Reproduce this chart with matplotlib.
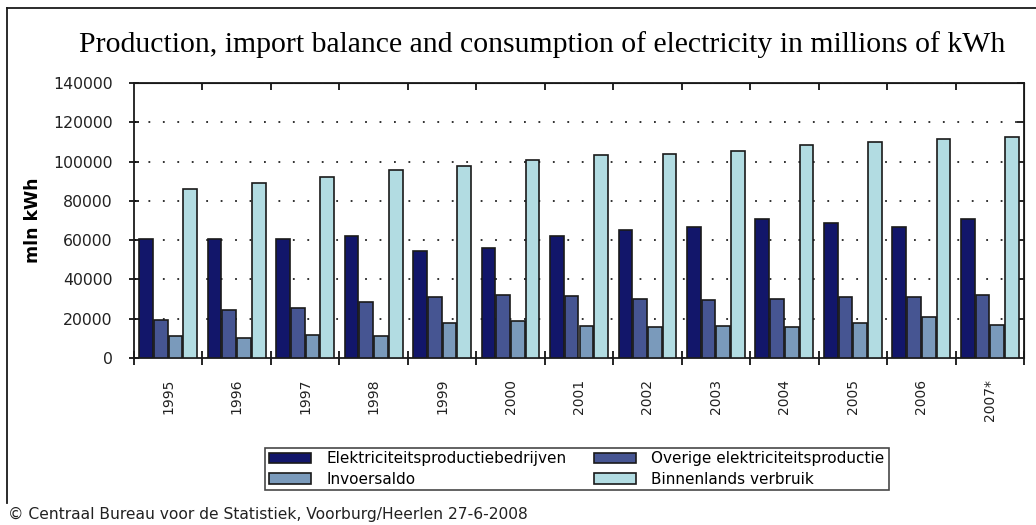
import matplotlib
matplotlib.use("Agg")
import matplotlib.pyplot as plt
import numpy as np
from matplotlib.lines import Line2D

# data (mln kWh)
years = ["1995", "1996", "1997", "1998", "1999", "2000", "2001",
         "2002", "2003", "2004", "2005", "2006", "2007*"]
productiebedrijven = [60400, 60400, 60400, 62100, 54500, 55800, 62100,
                      65200, 66700, 70600, 68900, 66700, 70600]
overige = [19600, 24200, 25500, 28600, 31000, 32300, 31500,
           30100, 29400, 30100, 31000, 31000, 32300]
invoersaldo = [11100, 10200, 11900, 11100, 17900, 18700, 16500,
               15700, 16500, 15700, 17900, 20900, 17000]
verbruik = [86000, 88900, 91900, 95800, 97900, 100900, 103300,
            104000, 105500, 108600, 110100, 111500, 112300]

labels = ["Elektriciteitsproductiebedrijven", "Overige elektriciteitsproductie",
          "Invoersaldo", "Binnenlands verbruik"]
colors = ["#12166a", "#465592", "#7a9abb", "#b2dce2"]

plt.rcParams['font.family'] = ['DejaVu Sans']

fig = plt.figure(figsize=(10.36, 5.25), dpi=100)
ax = fig.add_axes([134/1036, 1-358/525, 890/1036, 275/525])

x = np.arange(len(years))
w = 0.2
step = 0.215
series = [productiebedrijven, overige, invoersaldo, verbruik]
bars = []
for i, vals in enumerate(series):
    b = ax.bar(x + (i - 1.5)*step, vals, w, color=colors[i],
               edgecolor="#1a1a1a", linewidth=1.2, label=labels[i], zorder=3)
    bars.append(b)

ax.set_xlim(-0.5, len(years) - 0.5)
ax.set_ylim(0, 140000)
ax.set_yticks(np.arange(0, 140001, 20000))
ax.set_yticklabels([str(v) for v in range(0, 140001, 20000)], fontsize=11.3, color="#222")
ax.yaxis.grid(True, linestyle=(0, (1, 7)), color="#222", linewidth=1.3)
ax.set_axisbelow(True)

bounds = np.arange(-0.5, len(years), 1.0)
ax.set_xticks(bounds)
ax.set_xticklabels([])
ax.set_xticks(x, minor=True)
ax.set_xticklabels(years, minor=True, rotation=90, fontsize=10, color="#222")
ax.tick_params(axis='x', which='minor', length=0, pad=15)
ax.tick_params(axis='x', which='major', direction='inout', length=10, width=1.2)
ax.tick_params(axis='y', direction='inout', length=6.5, width=1.2, pad=12)

for sp in ax.spines.values():
    sp.set_linewidth(1.3)
    sp.set_color("#1a1a1a")

top = ax.secondary_xaxis('top')
top.set_xticks(bounds[1:-1])
top.set_xticklabels([])
top.tick_params(direction='in', length=5, width=1.2)
right = ax.secondary_yaxis('right')
right.set_yticks(np.arange(20000, 140001, 20000))
right.set_yticklabels([])
right.tick_params(direction='in', length=5, width=1.2)

ax.set_ylabel("mln kWh", fontsize=12.5, fontweight='bold')
ax.yaxis.set_label_coords(-(134-42)/890, 0.5)

fig.text(542/1036, 1-45/525,
         "Production, import balance and consumption of electricity in millions of kWh",
         family="Liberation Serif", fontsize=21.4, ha='center', va='center')

order = [0, 2, 1, 3]
leg = fig.legend([bars[i] for i in order], [labels[i] for i in order], ncol=2,
                 loc='center', bbox_to_anchor=(577/1036, 1-469/525), fontsize=11,
                 frameon=True, fancybox=False, edgecolor="#1a1a1a",
                 handlelength=2.75, handleheight=0.7, handletextpad=1.0,
                 columnspacing=1.8, labelspacing=0.35, borderpad=0.25,
                 borderaxespad=0)
leg.get_frame().set_linewidth(1.2)

fig.text(8/1036, 1-514/525,
         "\u00a9 Centraal Bureau voor de Statistiek, Voorburg/Heerlen 27-6-2008",
         fontsize=11.2, color="#222", ha='left', va='center')

# outer frame (left and top edges)
fig.add_artist(Line2D([7/1036, 7/1036], [1-503/525, 1-8/525],
                      transform=fig.transFigure, color="#1a1a1a", lw=1.3))
fig.add_artist(Line2D([7/1036, 1.0], [1-8/525, 1-8/525],
                      transform=fig.transFigure, color="#1a1a1a", lw=1.3))

fig.savefig("out.png", dpi=100)
